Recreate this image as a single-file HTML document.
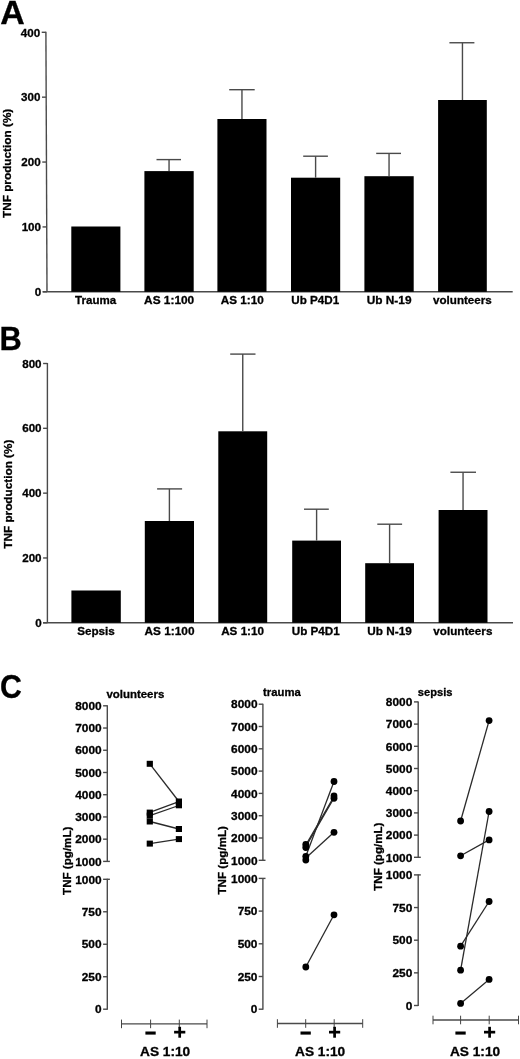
<!DOCTYPE html>
<html><head><meta charset="utf-8"><style>
html,body{margin:0;padding:0;background:#fff;}
body{width:520px;height:1059px;overflow:hidden;}
svg{display:block;filter:grayscale(1) blur(0.35px);font-family:"Liberation Sans", sans-serif;font-weight:bold;}
text{stroke:#000;stroke-width:0.3px;}
</style></head><body>
<svg width="520" height="1059" viewBox="0 0 520 1059">
<rect width="520" height="1059" fill="#fff"/>
<text x="0.35" y="23.65" font-size="32.87" textLength="24.47" lengthAdjust="spacingAndGlyphs">A</text>
<line x1="45.9" y1="31.7" x2="47" y2="291.8" stroke="#4a4a4a" stroke-width="1.4"/>
<line x1="42.8" y1="291.8" x2="47" y2="291.8" stroke="#4a4a4a" stroke-width="1.4"/>
<text x="34.83" y="296.1" font-size="11.6" textLength="6.45" lengthAdjust="spacingAndGlyphs">0</text>
<line x1="42.52" y1="226.93" x2="46.73" y2="226.93" stroke="#4a4a4a" stroke-width="1.4"/>
<text x="21.65" y="231.23" font-size="11.6" textLength="19.35" lengthAdjust="spacingAndGlyphs">100</text>
<line x1="42.25" y1="162.05" x2="46.45" y2="162.05" stroke="#4a4a4a" stroke-width="1.4"/>
<text x="21.37" y="166.35" font-size="11.6" textLength="19.35" lengthAdjust="spacingAndGlyphs">200</text>
<line x1="41.97" y1="97.17" x2="46.17" y2="97.17" stroke="#4a4a4a" stroke-width="1.4"/>
<text x="21.1" y="101.47" font-size="11.6" textLength="19.35" lengthAdjust="spacingAndGlyphs">300</text>
<line x1="41.7" y1="32.3" x2="45.9" y2="32.3" stroke="#4a4a4a" stroke-width="1.4"/>
<text x="20.82" y="36.6" font-size="11.6" textLength="19.35" lengthAdjust="spacingAndGlyphs">400</text>
<line x1="42.6" y1="291.8" x2="512.7" y2="291.8" stroke="#4a4a4a" stroke-width="1.4"/>
<text x="11" y="218.02" font-size="11.5" textLength="109.32" lengthAdjust="spacingAndGlyphs" transform="rotate(-90 11 218.02)">TNF production (%)</text>
<rect x="71.3" y="226.5" width="49.1" height="65.3" fill="#000"/>
<text x="75.08" y="303.7" font-size="11.6" textLength="41.06" lengthAdjust="spacingAndGlyphs">Trauma</text>
<rect x="144.4" y="171.1" width="49.3" height="120.7" fill="#000"/>
<line x1="169.05" y1="159.6" x2="169.05" y2="171.1" stroke="#4a4a4a" stroke-width="1.4"/>
<line x1="156.5" y1="159.6" x2="181" y2="159.6" stroke="#4a4a4a" stroke-width="1.4"/>
<text x="144.1" y="303.7" font-size="11.6" textLength="50.1" lengthAdjust="spacingAndGlyphs">AS 1:100</text>
<rect x="217.4" y="119" width="49.1" height="172.8" fill="#000"/>
<line x1="241.95" y1="89.7" x2="241.95" y2="119" stroke="#4a4a4a" stroke-width="1.4"/>
<line x1="229.2" y1="89.7" x2="254.7" y2="89.7" stroke="#4a4a4a" stroke-width="1.4"/>
<text x="220.71" y="303.7" font-size="11.6" textLength="42.97" lengthAdjust="spacingAndGlyphs">AS 1:10</text>
<rect x="291" y="177.7" width="49.2" height="114.1" fill="#000"/>
<line x1="315.6" y1="156.2" x2="315.6" y2="177.7" stroke="#4a4a4a" stroke-width="1.4"/>
<line x1="303.2" y1="156.2" x2="327.9" y2="156.2" stroke="#4a4a4a" stroke-width="1.4"/>
<text x="291.3" y="303.7" font-size="11.6" textLength="47.82" lengthAdjust="spacingAndGlyphs">Ub P4D1</text>
<rect x="364.4" y="176.2" width="49.3" height="115.6" fill="#000"/>
<line x1="389.05" y1="153.4" x2="389.05" y2="176.2" stroke="#4a4a4a" stroke-width="1.4"/>
<line x1="376.2" y1="153.4" x2="401" y2="153.4" stroke="#4a4a4a" stroke-width="1.4"/>
<text x="366.69" y="303.7" font-size="11.6" textLength="44.84" lengthAdjust="spacingAndGlyphs">Ub N-19</text>
<rect x="438.1" y="100" width="48.7" height="191.8" fill="#000"/>
<line x1="462.45" y1="42.75" x2="462.45" y2="100" stroke="#4a4a4a" stroke-width="1.4"/>
<line x1="449.4" y1="42.75" x2="474.4" y2="42.75" stroke="#4a4a4a" stroke-width="1.4"/>
<text x="433.04" y="303.7" font-size="11.6" textLength="58.75" lengthAdjust="spacingAndGlyphs">volunteers</text>
<text x="-0.38" y="350.4" font-size="33.16" textLength="22.26" lengthAdjust="spacingAndGlyphs">B</text>
<line x1="47.4" y1="362.9" x2="47.4" y2="622.8" stroke="#4a4a4a" stroke-width="1.4"/>
<line x1="43.1" y1="622.8" x2="47.4" y2="622.8" stroke="#4a4a4a" stroke-width="1.4"/>
<text x="35.13" y="626.8" font-size="11.6" textLength="6.45" lengthAdjust="spacingAndGlyphs">0</text>
<line x1="43.1" y1="557.97" x2="47.4" y2="557.97" stroke="#4a4a4a" stroke-width="1.4"/>
<text x="22.22" y="561.97" font-size="11.6" textLength="19.35" lengthAdjust="spacingAndGlyphs">200</text>
<line x1="43.1" y1="493.15" x2="47.4" y2="493.15" stroke="#4a4a4a" stroke-width="1.4"/>
<text x="22.22" y="497.15" font-size="11.6" textLength="19.35" lengthAdjust="spacingAndGlyphs">400</text>
<line x1="43.1" y1="428.32" x2="47.4" y2="428.32" stroke="#4a4a4a" stroke-width="1.4"/>
<text x="22.22" y="432.32" font-size="11.6" textLength="19.35" lengthAdjust="spacingAndGlyphs">600</text>
<line x1="43.1" y1="363.5" x2="47.4" y2="363.5" stroke="#4a4a4a" stroke-width="1.4"/>
<text x="22.22" y="367.5" font-size="11.6" textLength="19.35" lengthAdjust="spacingAndGlyphs">800</text>
<line x1="43" y1="622.8" x2="513" y2="622.8" stroke="#4a4a4a" stroke-width="1.4"/>
<text x="11.7" y="548.72" font-size="11.5" textLength="109.12" lengthAdjust="spacingAndGlyphs" transform="rotate(-90 11.7 548.72)">TNF production (%)</text>
<rect x="71.4" y="590.5" width="49.4" height="32.3" fill="#000"/>
<text x="77.15" y="634.8" font-size="11.6" textLength="37.74" lengthAdjust="spacingAndGlyphs">Sepsis</text>
<rect x="144.8" y="521" width="49.2" height="101.8" fill="#000"/>
<line x1="169.4" y1="488.9" x2="169.4" y2="521" stroke="#4a4a4a" stroke-width="1.4"/>
<line x1="157.1" y1="488.9" x2="182.1" y2="488.9" stroke="#4a4a4a" stroke-width="1.4"/>
<text x="144.5" y="634.8" font-size="11.6" textLength="50" lengthAdjust="spacingAndGlyphs">AS 1:100</text>
<rect x="218.3" y="431.3" width="48.9" height="191.5" fill="#000"/>
<line x1="242.75" y1="354.1" x2="242.75" y2="431.3" stroke="#4a4a4a" stroke-width="1.4"/>
<line x1="230.2" y1="354.1" x2="255.5" y2="354.1" stroke="#4a4a4a" stroke-width="1.4"/>
<text x="221.21" y="634.8" font-size="11.6" textLength="42.77" lengthAdjust="spacingAndGlyphs">AS 1:10</text>
<rect x="292.2" y="540.6" width="48.8" height="82.2" fill="#000"/>
<line x1="316.6" y1="509.2" x2="316.6" y2="540.6" stroke="#4a4a4a" stroke-width="1.4"/>
<line x1="304" y1="509.2" x2="328.8" y2="509.2" stroke="#4a4a4a" stroke-width="1.4"/>
<text x="291.7" y="634.8" font-size="11.6" textLength="48.12" lengthAdjust="spacingAndGlyphs">Ub P4D1</text>
<rect x="365.2" y="563.2" width="48.8" height="59.6" fill="#000"/>
<line x1="389.6" y1="524.2" x2="389.6" y2="563.2" stroke="#4a4a4a" stroke-width="1.4"/>
<line x1="377.3" y1="524.2" x2="402.1" y2="524.2" stroke="#4a4a4a" stroke-width="1.4"/>
<text x="367.39" y="634.8" font-size="11.6" textLength="44.43" lengthAdjust="spacingAndGlyphs">Ub N-19</text>
<rect x="438.6" y="510" width="48.9" height="112.8" fill="#000"/>
<line x1="463.05" y1="472.25" x2="463.05" y2="510" stroke="#4a4a4a" stroke-width="1.4"/>
<line x1="450.4" y1="472.25" x2="476" y2="472.25" stroke="#4a4a4a" stroke-width="1.4"/>
<text x="433.34" y="634.8" font-size="11.6" textLength="59.05" lengthAdjust="spacingAndGlyphs">volunteers</text>
<text x="0.09" y="697.97" font-size="33.07" textLength="21.83" lengthAdjust="spacingAndGlyphs">C</text>
<line x1="107.3" y1="705.3" x2="107.3" y2="861.9" stroke="#4a4a4a" stroke-width="1.4"/>
<line x1="103.1" y1="705.8" x2="107.3" y2="705.8" stroke="#4a4a4a" stroke-width="1.4"/>
<text x="75.19" y="710" font-size="11.2" textLength="26.41" lengthAdjust="spacingAndGlyphs">8000</text>
<line x1="103.1" y1="728.03" x2="107.3" y2="728.03" stroke="#4a4a4a" stroke-width="1.4"/>
<text x="75.19" y="732.23" font-size="11.2" textLength="26.41" lengthAdjust="spacingAndGlyphs">7000</text>
<line x1="103.1" y1="750.26" x2="107.3" y2="750.26" stroke="#4a4a4a" stroke-width="1.4"/>
<text x="75.19" y="754.46" font-size="11.2" textLength="26.41" lengthAdjust="spacingAndGlyphs">6000</text>
<line x1="103.1" y1="772.49" x2="107.3" y2="772.49" stroke="#4a4a4a" stroke-width="1.4"/>
<text x="75.19" y="776.69" font-size="11.2" textLength="26.41" lengthAdjust="spacingAndGlyphs">5000</text>
<line x1="103.1" y1="794.71" x2="107.3" y2="794.71" stroke="#4a4a4a" stroke-width="1.4"/>
<text x="75.19" y="798.91" font-size="11.2" textLength="26.41" lengthAdjust="spacingAndGlyphs">4000</text>
<line x1="103.1" y1="816.94" x2="107.3" y2="816.94" stroke="#4a4a4a" stroke-width="1.4"/>
<text x="75.19" y="821.14" font-size="11.2" textLength="26.41" lengthAdjust="spacingAndGlyphs">3000</text>
<line x1="103.1" y1="839.17" x2="107.3" y2="839.17" stroke="#4a4a4a" stroke-width="1.4"/>
<text x="75.19" y="843.37" font-size="11.2" textLength="26.41" lengthAdjust="spacingAndGlyphs">2000</text>
<line x1="103.1" y1="861.4" x2="109.9" y2="861.4" stroke="#4a4a4a" stroke-width="1.4"/>
<text x="75.19" y="865.6" font-size="11.2" textLength="26.41" lengthAdjust="spacingAndGlyphs">1000</text>
<line x1="107.3" y1="878.8" x2="107.3" y2="1009.7" stroke="#4a4a4a" stroke-width="1.4"/>
<line x1="103.1" y1="879.3" x2="109.9" y2="879.3" stroke="#4a4a4a" stroke-width="1.4"/>
<text x="75.19" y="883.5" font-size="11.2" textLength="26.41" lengthAdjust="spacingAndGlyphs">1000</text>
<line x1="103.1" y1="911.77" x2="107.3" y2="911.77" stroke="#4a4a4a" stroke-width="1.4"/>
<text x="81.78" y="915.98" font-size="11.2" textLength="19.81" lengthAdjust="spacingAndGlyphs">750</text>
<line x1="103.1" y1="944.25" x2="107.3" y2="944.25" stroke="#4a4a4a" stroke-width="1.4"/>
<text x="81.78" y="948.45" font-size="11.2" textLength="19.81" lengthAdjust="spacingAndGlyphs">500</text>
<line x1="103.1" y1="976.73" x2="107.3" y2="976.73" stroke="#4a4a4a" stroke-width="1.4"/>
<text x="81.78" y="980.93" font-size="11.2" textLength="19.81" lengthAdjust="spacingAndGlyphs">250</text>
<line x1="103.1" y1="1009.2" x2="107.3" y2="1009.2" stroke="#4a4a4a" stroke-width="1.4"/>
<text x="94.99" y="1013.4" font-size="11.2" textLength="6.6" lengthAdjust="spacingAndGlyphs">0</text>
<text x="106.44" y="698.1" font-size="11.4" textLength="57.84" lengthAdjust="spacingAndGlyphs">volunteers</text>
<line x1="121.5" y1="1023.9" x2="207" y2="1023.9" stroke="#4a4a4a" stroke-width="1.4"/>
<line x1="121.5" y1="1019.6" x2="121.5" y2="1028.2" stroke="#444" stroke-width="1.0"/>
<line x1="150.6" y1="1019.6" x2="150.6" y2="1028.2" stroke="#444" stroke-width="1.0"/>
<line x1="179.3" y1="1019.6" x2="179.3" y2="1028.2" stroke="#444" stroke-width="1.0"/>
<line x1="207" y1="1019.6" x2="207" y2="1028.2" stroke="#444" stroke-width="1.0"/>
<rect x="145.4" y="1031.5" width="10.3" height="3.1" fill="#000"/>
<rect x="174.1" y="1030.8" width="11.2" height="2.7" fill="#000"/>
<rect x="178.35" y="1026.8" width="2.7" height="10.9" fill="#000"/>
<text x="140.01" y="1056" font-size="13.2" textLength="50.2" lengthAdjust="spacingAndGlyphs">AS 1:10</text>
<text x="71" y="894.92" font-size="11.7" textLength="68.29" lengthAdjust="spacingAndGlyphs" transform="rotate(-90 71 894.92)">TNF (pg/mL)</text>
<line x1="149.8" y1="763.8" x2="178.9" y2="801.5" stroke="#2a2a2a" stroke-width="1.3"/>
<line x1="149.8" y1="812.4" x2="178.9" y2="801.7" stroke="#2a2a2a" stroke-width="1.3"/>
<line x1="149.8" y1="815.6" x2="178.9" y2="805.5" stroke="#2a2a2a" stroke-width="1.3"/>
<line x1="149.8" y1="821.5" x2="178.9" y2="829" stroke="#2a2a2a" stroke-width="1.3"/>
<line x1="149.8" y1="843.6" x2="178.9" y2="839.1" stroke="#2a2a2a" stroke-width="1.3"/>
<rect x="146.7" y="760.8" width="6.2" height="6" fill="#000"/>
<rect x="146.7" y="809.6" width="6.2" height="6" fill="#000"/>
<rect x="146.7" y="812.6" width="6.2" height="6" fill="#000"/>
<rect x="146.7" y="818.5" width="6.2" height="6" fill="#000"/>
<rect x="146.7" y="840.6" width="6.2" height="6" fill="#000"/>
<rect x="175.8" y="798.5" width="6.2" height="6" fill="#000"/>
<rect x="175.8" y="802.3" width="6.2" height="6" fill="#000"/>
<rect x="175.8" y="826" width="6.2" height="6" fill="#000"/>
<rect x="175.8" y="836.1" width="6.2" height="6" fill="#000"/>
<line x1="262.9" y1="703.7" x2="262.9" y2="860.8" stroke="#4a4a4a" stroke-width="1.4"/>
<line x1="258.7" y1="704.2" x2="262.9" y2="704.2" stroke="#4a4a4a" stroke-width="1.4"/>
<text x="231.09" y="708.4" font-size="11.2" textLength="26.41" lengthAdjust="spacingAndGlyphs">8000</text>
<line x1="258.7" y1="726.5" x2="262.9" y2="726.5" stroke="#4a4a4a" stroke-width="1.4"/>
<text x="231.09" y="730.7" font-size="11.2" textLength="26.41" lengthAdjust="spacingAndGlyphs">7000</text>
<line x1="258.7" y1="748.8" x2="262.9" y2="748.8" stroke="#4a4a4a" stroke-width="1.4"/>
<text x="231.09" y="753" font-size="11.2" textLength="26.41" lengthAdjust="spacingAndGlyphs">6000</text>
<line x1="258.7" y1="771.1" x2="262.9" y2="771.1" stroke="#4a4a4a" stroke-width="1.4"/>
<text x="231.09" y="775.3" font-size="11.2" textLength="26.41" lengthAdjust="spacingAndGlyphs">5000</text>
<line x1="258.7" y1="793.4" x2="262.9" y2="793.4" stroke="#4a4a4a" stroke-width="1.4"/>
<text x="231.09" y="797.6" font-size="11.2" textLength="26.41" lengthAdjust="spacingAndGlyphs">4000</text>
<line x1="258.7" y1="815.7" x2="262.9" y2="815.7" stroke="#4a4a4a" stroke-width="1.4"/>
<text x="231.09" y="819.9" font-size="11.2" textLength="26.41" lengthAdjust="spacingAndGlyphs">3000</text>
<line x1="258.7" y1="838" x2="262.9" y2="838" stroke="#4a4a4a" stroke-width="1.4"/>
<text x="231.09" y="842.2" font-size="11.2" textLength="26.41" lengthAdjust="spacingAndGlyphs">2000</text>
<line x1="258.7" y1="860.3" x2="265.5" y2="860.3" stroke="#4a4a4a" stroke-width="1.4"/>
<text x="231.09" y="864.5" font-size="11.2" textLength="26.41" lengthAdjust="spacingAndGlyphs">1000</text>
<line x1="262.9" y1="877.9" x2="262.9" y2="1009.7" stroke="#4a4a4a" stroke-width="1.4"/>
<line x1="258.7" y1="878.4" x2="265.5" y2="878.4" stroke="#4a4a4a" stroke-width="1.4"/>
<text x="231.09" y="882.6" font-size="11.2" textLength="26.41" lengthAdjust="spacingAndGlyphs">1000</text>
<line x1="258.7" y1="911.1" x2="262.9" y2="911.1" stroke="#4a4a4a" stroke-width="1.4"/>
<text x="237.68" y="915.3" font-size="11.2" textLength="19.81" lengthAdjust="spacingAndGlyphs">750</text>
<line x1="258.7" y1="943.8" x2="262.9" y2="943.8" stroke="#4a4a4a" stroke-width="1.4"/>
<text x="237.68" y="948" font-size="11.2" textLength="19.81" lengthAdjust="spacingAndGlyphs">500</text>
<line x1="258.7" y1="976.5" x2="262.9" y2="976.5" stroke="#4a4a4a" stroke-width="1.4"/>
<text x="237.68" y="980.7" font-size="11.2" textLength="19.81" lengthAdjust="spacingAndGlyphs">250</text>
<line x1="258.7" y1="1009.2" x2="262.9" y2="1009.2" stroke="#4a4a4a" stroke-width="1.4"/>
<text x="250.89" y="1013.4" font-size="11.2" textLength="6.6" lengthAdjust="spacingAndGlyphs">0</text>
<text x="263.06" y="695.8" font-size="11.4" textLength="37.68" lengthAdjust="spacingAndGlyphs">trauma</text>
<line x1="277.4" y1="1023.5" x2="362.7" y2="1023.5" stroke="#4a4a4a" stroke-width="1.4"/>
<line x1="277.4" y1="1019.2" x2="277.4" y2="1027.8" stroke="#444" stroke-width="1.0"/>
<line x1="305.7" y1="1019.2" x2="305.7" y2="1027.8" stroke="#444" stroke-width="1.0"/>
<line x1="334.2" y1="1019.2" x2="334.2" y2="1027.8" stroke="#444" stroke-width="1.0"/>
<line x1="362.7" y1="1019.2" x2="362.7" y2="1027.8" stroke="#444" stroke-width="1.0"/>
<rect x="300.5" y="1031.5" width="10.3" height="3.1" fill="#000"/>
<rect x="329" y="1030.8" width="11.2" height="2.7" fill="#000"/>
<rect x="333.25" y="1026.8" width="2.7" height="10.9" fill="#000"/>
<text x="295.01" y="1056" font-size="13.2" textLength="50.2" lengthAdjust="spacingAndGlyphs">AS 1:10</text>
<text x="226.4" y="894.52" font-size="11.7" textLength="68.5" lengthAdjust="spacingAndGlyphs" transform="rotate(-90 226.4 894.52)">TNF (pg/mL)</text>
<line x1="305.8" y1="845" x2="334" y2="796.6" stroke="#2a2a2a" stroke-width="1.3"/>
<line x1="305.8" y1="846.6" x2="334" y2="798" stroke="#2a2a2a" stroke-width="1.3"/>
<line x1="305.8" y1="856.3" x2="334" y2="781.5" stroke="#2a2a2a" stroke-width="1.3"/>
<line x1="305.8" y1="858" x2="334" y2="832.3" stroke="#2a2a2a" stroke-width="1.3"/>
<line x1="305.8" y1="967" x2="334" y2="914.8" stroke="#2a2a2a" stroke-width="1.3"/>
<circle cx="305.8" cy="844.4" r="3.4" fill="#000"/>
<circle cx="305.8" cy="847.5" r="3.4" fill="#000"/>
<circle cx="305.8" cy="856.3" r="3.4" fill="#000"/>
<circle cx="305.8" cy="860" r="3.4" fill="#000"/>
<circle cx="305.8" cy="967" r="3.4" fill="#000"/>
<circle cx="334" cy="781.5" r="3.4" fill="#000"/>
<circle cx="334" cy="796" r="3.4" fill="#000"/>
<circle cx="334" cy="798.3" r="3.4" fill="#000"/>
<circle cx="334" cy="832.3" r="3.4" fill="#000"/>
<circle cx="334" cy="914.8" r="3.4" fill="#000"/>
<line x1="418.2" y1="701.4" x2="418.2" y2="857.8" stroke="#4a4a4a" stroke-width="1.4"/>
<line x1="414" y1="701.9" x2="418.2" y2="701.9" stroke="#4a4a4a" stroke-width="1.4"/>
<text x="385.89" y="706.1" font-size="11.2" textLength="26.41" lengthAdjust="spacingAndGlyphs">8000</text>
<line x1="414" y1="724.1" x2="418.2" y2="724.1" stroke="#4a4a4a" stroke-width="1.4"/>
<text x="385.89" y="728.3" font-size="11.2" textLength="26.41" lengthAdjust="spacingAndGlyphs">7000</text>
<line x1="414" y1="746.3" x2="418.2" y2="746.3" stroke="#4a4a4a" stroke-width="1.4"/>
<text x="385.89" y="750.5" font-size="11.2" textLength="26.41" lengthAdjust="spacingAndGlyphs">6000</text>
<line x1="414" y1="768.5" x2="418.2" y2="768.5" stroke="#4a4a4a" stroke-width="1.4"/>
<text x="385.89" y="772.7" font-size="11.2" textLength="26.41" lengthAdjust="spacingAndGlyphs">5000</text>
<line x1="414" y1="790.7" x2="418.2" y2="790.7" stroke="#4a4a4a" stroke-width="1.4"/>
<text x="385.89" y="794.9" font-size="11.2" textLength="26.41" lengthAdjust="spacingAndGlyphs">4000</text>
<line x1="414" y1="812.9" x2="418.2" y2="812.9" stroke="#4a4a4a" stroke-width="1.4"/>
<text x="385.89" y="817.1" font-size="11.2" textLength="26.41" lengthAdjust="spacingAndGlyphs">3000</text>
<line x1="414" y1="835.1" x2="418.2" y2="835.1" stroke="#4a4a4a" stroke-width="1.4"/>
<text x="385.89" y="839.3" font-size="11.2" textLength="26.41" lengthAdjust="spacingAndGlyphs">2000</text>
<line x1="414" y1="857.3" x2="420.8" y2="857.3" stroke="#4a4a4a" stroke-width="1.4"/>
<text x="385.89" y="861.5" font-size="11.2" textLength="26.41" lengthAdjust="spacingAndGlyphs">1000</text>
<line x1="418.2" y1="874.4" x2="418.2" y2="1006" stroke="#4a4a4a" stroke-width="1.4"/>
<line x1="414" y1="874.9" x2="420.8" y2="874.9" stroke="#4a4a4a" stroke-width="1.4"/>
<text x="385.89" y="879.1" font-size="11.2" textLength="26.41" lengthAdjust="spacingAndGlyphs">1000</text>
<line x1="414" y1="907.55" x2="418.2" y2="907.55" stroke="#4a4a4a" stroke-width="1.4"/>
<text x="392.48" y="911.75" font-size="11.2" textLength="19.81" lengthAdjust="spacingAndGlyphs">750</text>
<line x1="414" y1="940.2" x2="418.2" y2="940.2" stroke="#4a4a4a" stroke-width="1.4"/>
<text x="392.48" y="944.4" font-size="11.2" textLength="19.81" lengthAdjust="spacingAndGlyphs">500</text>
<line x1="414" y1="972.85" x2="418.2" y2="972.85" stroke="#4a4a4a" stroke-width="1.4"/>
<text x="392.48" y="977.05" font-size="11.2" textLength="19.81" lengthAdjust="spacingAndGlyphs">250</text>
<line x1="414" y1="1005.5" x2="418.2" y2="1005.5" stroke="#4a4a4a" stroke-width="1.4"/>
<text x="405.69" y="1009.7" font-size="11.2" textLength="6.6" lengthAdjust="spacingAndGlyphs">0</text>
<text x="417.81" y="695.8" font-size="11.4" textLength="34.64" lengthAdjust="spacingAndGlyphs">sepsis</text>
<line x1="433" y1="1020" x2="518.5" y2="1020" stroke="#4a4a4a" stroke-width="1.4"/>
<line x1="433" y1="1015.7" x2="433" y2="1024.3" stroke="#444" stroke-width="1.0"/>
<line x1="460.6" y1="1015.7" x2="460.6" y2="1024.3" stroke="#444" stroke-width="1.0"/>
<line x1="489.2" y1="1015.7" x2="489.2" y2="1024.3" stroke="#444" stroke-width="1.0"/>
<line x1="518.5" y1="1015.7" x2="518.5" y2="1024.3" stroke="#444" stroke-width="1.0"/>
<rect x="455.4" y="1031.5" width="10.3" height="3.1" fill="#000"/>
<rect x="484" y="1030.8" width="11.2" height="2.7" fill="#000"/>
<rect x="488.25" y="1026.8" width="2.7" height="10.9" fill="#000"/>
<text x="449.96" y="1056" font-size="13.2" textLength="50.2" lengthAdjust="spacingAndGlyphs">AS 1:10</text>
<text x="381.8" y="890.72" font-size="11.7" textLength="68.09" lengthAdjust="spacingAndGlyphs" transform="rotate(-90 381.8 890.72)">TNF (pg/mL)</text>
<line x1="460.6" y1="821" x2="489.1" y2="720.6" stroke="#2a2a2a" stroke-width="1.3"/>
<line x1="460.6" y1="855.8" x2="489.1" y2="839.9" stroke="#2a2a2a" stroke-width="1.3"/>
<line x1="460.6" y1="946.2" x2="489.1" y2="901.5" stroke="#2a2a2a" stroke-width="1.3"/>
<line x1="460.6" y1="970.2" x2="489.1" y2="811.5" stroke="#2a2a2a" stroke-width="1.3"/>
<line x1="460.6" y1="1003.4" x2="489.1" y2="979.4" stroke="#2a2a2a" stroke-width="1.3"/>
<circle cx="460.6" cy="821" r="3.4" fill="#000"/>
<circle cx="460.6" cy="855.8" r="3.4" fill="#000"/>
<circle cx="460.6" cy="946.2" r="3.4" fill="#000"/>
<circle cx="460.6" cy="970.2" r="3.4" fill="#000"/>
<circle cx="460.6" cy="1003.4" r="3.4" fill="#000"/>
<circle cx="489.1" cy="720.6" r="3.4" fill="#000"/>
<circle cx="489.1" cy="811.5" r="3.4" fill="#000"/>
<circle cx="489.1" cy="839.9" r="3.4" fill="#000"/>
<circle cx="489.1" cy="901.5" r="3.4" fill="#000"/>
<circle cx="489.1" cy="979.4" r="3.4" fill="#000"/>
</svg>
</body></html>
